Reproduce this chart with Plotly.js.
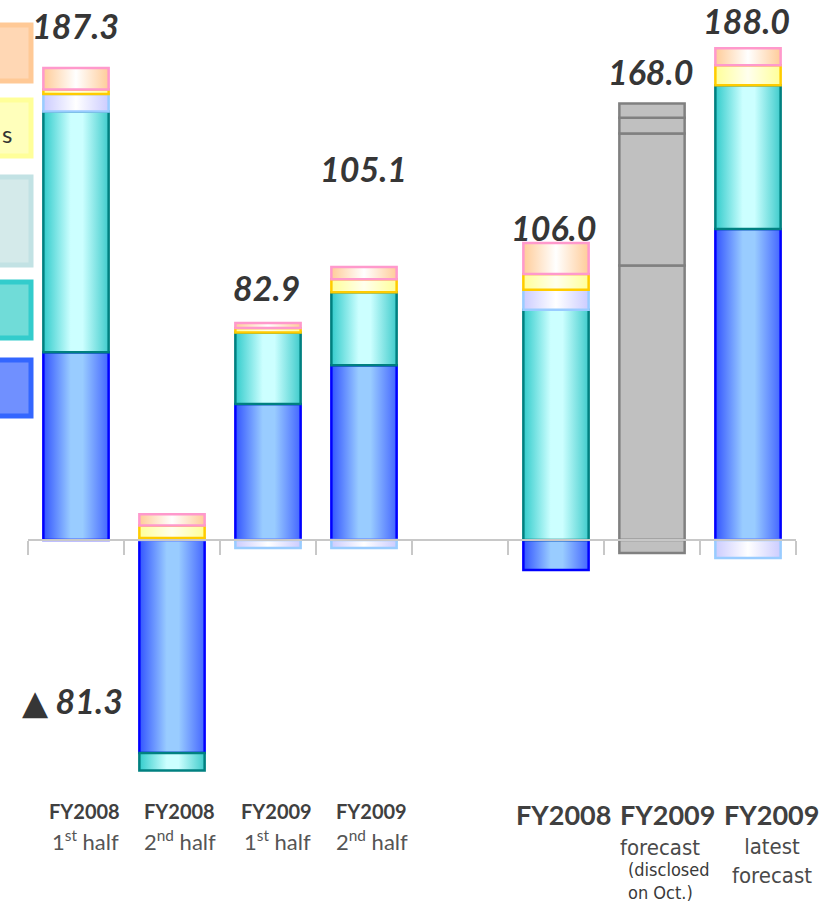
<!DOCTYPE html>
<html><head><meta charset="utf-8">
<script src="https://cdn.plot.ly/plotly-3.0.1.min.js"></script>
<style>html,body{margin:0;padding:0;background:#fff}#chart{width:834px;height:905px}</style>
</head><body><div id="chart"></div>
<script>
// ---- data ----
const categories = ["FY2008 H1", "FY2008 H2", "FY2009 H1", "FY2009 H2", "gap", "FY2008", "FY2009 forecast", "FY2009 latest"];
const blueVals     = [74.5, -84.5, 54.0, 69.3, null, -11.9, 108.9, 123.4];
const tealVals     = [95.5,  -7.0, 28.3, 29.0, null,  91.4,  52.4,  57.1];
const lavenderVals = [ 7.0,   0.8, -3.2, -3.2, null,   7.9,  -5.2,  -7.1];
const yellowVals   = [ 1.8,   5.0,  1.8,  5.2, null,   6.3,   6.3,   7.9];
const peachVals    = [ 8.5,   4.4,  2.0,  4.8, null,  12.3,   5.6,   6.7];
const totalLabels  = ["187.3", "▲ 81.3", "82.9", "105.1", "", "106.0", "168.0", "188.0"];
const tickTop      = ["FY2008", "FY2008", "FY2009", "FY2009", "", "FY2008", "FY2009", "FY2009"];
const tickBottom   = ["1<sup>st</sup> half", "2<sup>nd</sup> half", "1<sup>st</sup> half", "2<sup>nd</sup> half", "", "", "forecast", "latest"];
const forecastNote = ["(disclosed", "on Oct.)"];
const latestNote   = "forecast";
const legendFragment = "s";

// ---- styling ----
const W = 834, H = 905;
const px = v => v / W, py = v => 1 - v / H;
const grayIdx = 6;
const series = [
  {name: "blue", vals: blueVals, fill: "#6699ff", line: "#0000ff"},
  {name: "teal", vals: tealVals, fill: "#66dddd", line: "#008080"},
  {name: "lavender", vals: lavenderVals, fill: "#e6e6ff", line: "#99ccff"},
  {name: "yellow", vals: yellowVals, fill: "#ffffcc", line: "#ffcc00"},
  {name: "peach", vals: peachVals, fill: "#ffe6cc", line: "#ff99cc"}
];
const grads = {
  blue: [[0, "#3355ff"], [0.42, "#99ccff"], [0.6, "#99ccff"], [1, "#4466ff"]],
  teal: [[0, "#33cccc"], [0.42, "#ccffff"], [0.6, "#ccffff"], [1, "#40cccc"]],
  lavender: [[0, "#ccccff"], [0.5, "#ffffff"], [1, "#ccccff"]],
  yellow: [[0, "#ffff99"], [0.5, "#ffffee"], [1, "#ffff99"]],
  peach: [[0, "#ffcc99"], [0.5, "#ffffff"], [1, "#ffcc99"]]
};

const traces = series.map(s => ({
  type: "bar",
  x: categories,
  y: s.vals,
  name: s.name,
  width: 0.68,
  marker: {
    color: categories.map((c, i) => i === grayIdx ? "#c0c0c0" : s.fill),
    line: {color: categories.map((c, i) => i === grayIdx ? "#808080" : s.line), width: 2.5}
  },
  hoverinfo: "skip"
}));

// y range: zero line at 540px, 2.52 px per unit
const pxPerUnit = 2.52, zeroPx = 540;
const yTop = zeroPx / pxPerUnit, yBot = -(H - zeroPx) / pxPerUnit;

const annotations = [];
const valFont = {family: "Lato, 'DejaVu Sans', sans-serif", size: 34, color: "#363636", weight: 700, style: "italic"};
const valPos = [[0, 26, -1], [0, 700, -4], [2, 287, -2], [3, 168, -1], null, [5, 228, -3], [6, 72, -2], [7, 21, -2]];
totalLabels.forEach((t, i) => {
  const p = valPos[i];
  if (!p || !t) return;
  annotations.push({xref: "x", yref: "paper", x: categories[p[0]], y: py(p[1]), text: t, showarrow: false,
    xanchor: "center", yanchor: "middle", xshift: p[2], font: valFont});
});
// category labels
const leftShift = [8, 7, 8, 7];
for (let i = 0; i < 4; i++) {
  annotations.push({xref: "x", yref: "paper", x: categories[i], y: py(811), text: "<b>" + tickTop[i] + "</b>", showarrow: false,
    xanchor: "center", yanchor: "middle", xshift: leftShift[i], font: {family: "Lato, sans-serif", size: 20, color: "#404040"}});
  annotations.push({xref: "x", yref: "paper", x: categories[i], y: py(840), text: tickBottom[i], showarrow: false,
    xanchor: "center", yanchor: "middle", xshift: leftShift[i] + 1, font: {family: "Lato, sans-serif", size: 22, color: "#555555"}});
}
const rightShift = {5: 7, 6: 15, 7: 23};
[5, 6, 7].forEach(i => {
  annotations.push({xref: "x", yref: "paper", x: categories[i], y: py(814), text: "<b>" + tickTop[i] + "</b>", showarrow: false,
    xanchor: "center", yanchor: "middle", xshift: rightShift[i], font: {family: "Lato, sans-serif", size: 27, color: "#404040"}});
});
const narrow = "'Liberation Sans Narrow', 'DejaVu Sans Condensed', 'Noto Sans CJK JP', sans-serif";
const noteFont = {family: narrow, size: 22, color: "#4a4a4a"};
const smallNote = {family: narrow, size: 18, color: "#3a3a3a"};
annotations.push({xref: "x", yref: "paper", x: categories[6], y: py(847), text: tickBottom[6], showarrow: false,
  xanchor: "center", yanchor: "middle", xshift: 8, font: noteFont});
annotations.push({xref: "x", yref: "paper", x: categories[6], y: py(881), showarrow: false,
  text: forecastNote[0] + "<br>" + forecastNote[1], align: "left",
  xanchor: "left", yanchor: "middle", xshift: -26, font: smallNote});
annotations.push({xref: "x", yref: "paper", x: categories[7], y: py(861), showarrow: false,
  text: tickBottom[7] + "<br>" + latestNote, align: "center",
  xanchor: "center", yanchor: "middle", xshift: 24, font: noteFont});
// legend fragment text
annotations.push({xref: "paper", yref: "paper", x: 0, y: py(133), text: legendFragment, showarrow: false,
  xanchor: "left", yanchor: "middle", xshift: 0, font: {family: "Lato, sans-serif", size: 24, color: "#333333"}});

// legend boxes (cut off at left edge)
const legendBoxes = [
  {y0: 23, y1: 83, fill: "#ffd7b4", line: "#ffc996"},
  {y0: 98, y1: 158, fill: "#ffffbb", line: "#ffff99"},
  {y0: 175, y1: 267, fill: "#d4eaea", line: "#c2e2e4"},
  {y0: 280, y1: 340, fill: "#70dcd8", line: "#33cccc"},
  {y0: 358, y1: 418, fill: "#7090ff", line: "#3366ff"}
];
const shapes = legendBoxes.map(b => ({type: "rect", xref: "paper", yref: "paper", layer: "below",
  x0: px(-30), x1: px(31), y0: py(b.y1 - 2), y1: py(b.y0 + 2),
  fillcolor: b.fill, line: {color: b.line, width: 5}}));

const layout = {
  width: W, height: H,
  margin: {l: 0, r: 0, t: 0, b: 0, pad: 0},
  paper_bgcolor: "#ffffff", plot_bgcolor: "rgba(0,0,0,0)",
  barmode: "relative", bargap: 0.32,
  showlegend: false,
  xaxis: {
    type: "category", categoryorder: "array", categoryarray: categories,
    domain: [28 / W, 796 / W], range: [-0.5, 7.5],
    anchor: "free", position: -yBot / (yTop - yBot),
    showline: true, linecolor: "#c8c8c8", linewidth: 2,
    ticks: "outside", tickson: "boundaries", ticklen: 14, tickwidth: 2, tickcolor: "#c8c8c8",
    showticklabels: false, showgrid: false, zeroline: false, fixedrange: true
  },
  yaxis: {range: [yBot, yTop], domain: [0, 1], visible: false, showgrid: false, zeroline: false, fixedrange: true},
  annotations: annotations,
  shapes: shapes
};

Plotly.newPlot("chart", traces, layout, {staticPlot: true, displayModeBar: false}).then(gd => {
  const svg = gd.querySelector("svg.main-svg");
  let defs = svg.querySelector("defs");
  const NS = "http://www.w3.org/2000/svg";
  if (!defs) { defs = document.createElementNS(NS, "defs"); svg.insertBefore(defs, svg.firstChild); }
  Object.keys(grads).forEach(k => {
    const g = document.createElementNS(NS, "linearGradient");
    g.setAttribute("id", "grad-" + k);
    g.setAttribute("x1", "0"); g.setAttribute("x2", "1"); g.setAttribute("y1", "0"); g.setAttribute("y2", "0");
    grads[k].forEach(st => {
      const s = document.createElementNS(NS, "stop");
      s.setAttribute("offset", st[0]); s.setAttribute("stop-color", st[1]);
      g.appendChild(s);
    });
    defs.appendChild(g);
  });
  const traceGroups = gd.querySelectorAll(".barlayer .trace");
  traceGroups.forEach((tg, ti) => {
    const key = series[ti].name;
    tg.querySelectorAll(".point path").forEach(p => {
      const f = (p.style.fill || "").replace(/\s/g, "");
      if (f === "rgb(192,192,192)") return;
      p.style.fill = "url(#grad-" + key + ")";
    });
  });
});
</script>
</body></html>
